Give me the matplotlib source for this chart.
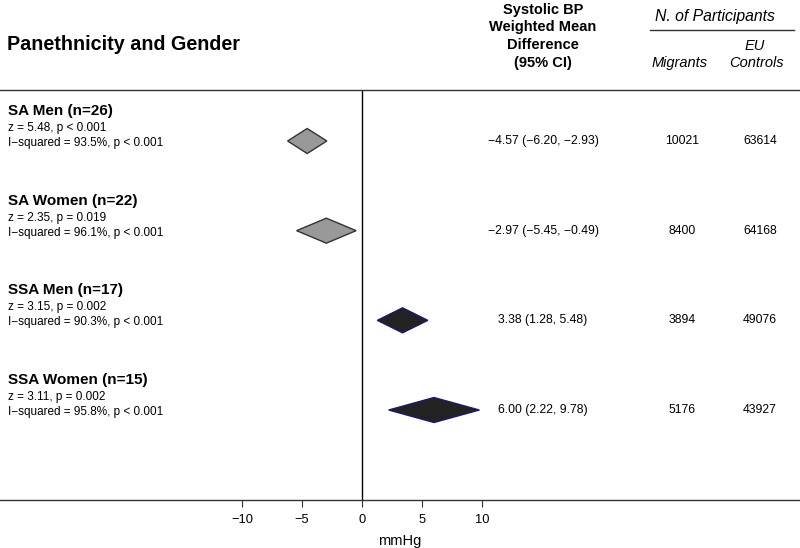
import matplotlib
matplotlib.use("Agg")
import matplotlib.pyplot as plt
from matplotlib.patches import Polygon
from matplotlib.transforms import blended_transform_factory

plt.rcParams['font.family'] = ['Liberation Sans', 'DejaVu Sans']

groups = ["SA Men (n=26)", "SA Women (n=22)", "SSA Men (n=17)", "SSA Women (n=15)"]
z_stats = ["z = 5.48, p < 0.001", "z = 2.35, p = 0.019", "z = 3.15, p = 0.002", "z = 3.11, p = 0.002"]
i2_stats = ["I\u2212squared = 93.5%, p < 0.001", "I\u2212squared = 96.1%, p < 0.001",
            "I\u2212squared = 90.3%, p < 0.001", "I\u2212squared = 95.8%, p < 0.001"]
wmd = [-4.57, -2.97, 3.38, 6.00]
ci_low = [-6.20, -5.45, 1.28, 2.22]
ci_high = [-2.93, -0.49, 5.48, 9.78]
migrants = [10021, 8400, 3894, 5176]
eu_controls = [63614, 64168, 49076, 43927]
fills = ["#999999", "#999999", "#222222", "#222222"]
edges = ["#333333", "#333333", "#1a1a6e", "#1a1a6e"]
xticks = [-10, -5, 0, 5, 10]

W, H = 800, 548
fig = plt.figure(figsize=(W / 100, H / 100), dpi=100)

top_px, bot_px = 90, 500
ax = fig.add_axes([0, 1 - bot_px / H, 1, (bot_px - top_px) / H])
x0_px, ppu = 362, 12.0
ax.set_xlim(-x0_px / ppu, (W - x0_px) / ppu)
row_px = 89.67
first_px = 141
ax.set_ylim((bot_px - first_px) / row_px, -(first_px - top_px) / row_px)

for s in ["left", "right"]:
    ax.spines[s].set_visible(False)
for s in ["top", "bottom"]:
    ax.spines[s].set_linewidth(1.0)
    ax.spines[s].set_color("#333333")
ax.set_yticks([])
ax.set_xticks(xticks)
ax.set_xticklabels([("\u2212" + str(abs(t))) if t < 0 else str(t) for t in xticks], fontsize=9.3)
ax.tick_params(axis="x", direction="out", length=5, width=0.8, color="#333333", pad=5)
ax.set_xlabel("mmHg", fontsize=10.5, labelpad=6)
ax.axvline(0, color="black", lw=1.0)

hh = 12.5 / row_px
for i in range(len(groups)):
    poly = Polygon([(ci_low[i], i), (wmd[i], i - hh), (ci_high[i], i), (wmd[i], i + hh)],
                   closed=True, facecolor=fills[i], edgecolor=edges[i], lw=1.0, zorder=3)
    ax.add_patch(poly)

tr = blended_transform_factory(fig.transFigure, ax.transData)
for i in range(len(groups)):
    ax.text(8 / W, i - 30 / row_px, groups[i], transform=tr, fontsize=11, fontweight="bold",
            va="center", ha="left")
    ax.text(8 / W, i - 13 / row_px, z_stats[i], transform=tr, fontsize=8.5, va="center", ha="left")
    ax.text(8 / W, i + 2 / row_px, i2_stats[i], transform=tr, fontsize=8.5, va="center", ha="left")
    ci_txt = f"{wmd[i]:.2f} ({ci_low[i]:.2f}, {ci_high[i]:.2f})".replace("-", "\u2212")
    ax.text(543 / W, i, ci_txt, transform=tr, fontsize=8.8, va="center", ha="center")
    ax.text(682 / W, i, str(migrants[i]), transform=tr, fontsize=8.8, va="center", ha="center")
    ax.text(760 / W, i, str(eu_controls[i]), transform=tr, fontsize=8.8, va="center", ha="center")

def fx(px):
    return px / W

def fy(py):
    return 1 - py / H

fig.text(fx(7), fy(44), "Panethnicity and Gender", fontsize=14.2, fontweight="bold", va="center", ha="left")
hdr_lines = ["Systolic BP", "Weighted Mean", "Difference", "(95% CI)"]
hdr_y = [10, 27, 45, 63]
for t, yy in zip(hdr_lines, hdr_y):
    fig.text(fx(543), fy(yy), t, fontsize=10.5, fontweight="bold", va="center", ha="center")
fig.text(fx(715), fy(17), "N. of Participants", fontsize=11.3, style="italic", va="center", ha="center")
fig.add_artist(plt.Line2D([fx(650), fx(794)], [fy(30), fy(30)], color="#333333", lw=1.0))
fig.text(fx(680), fy(63), "Migrants", fontsize=10.5, style="italic", va="center", ha="center")
fig.text(fx(755), fy(46), "EU", fontsize=10.5, style="italic", va="center", ha="center")
fig.text(fx(757), fy(63), "Controls", fontsize=10.5, style="italic", va="center", ha="center")

fig.savefig("out.png", dpi=100)
